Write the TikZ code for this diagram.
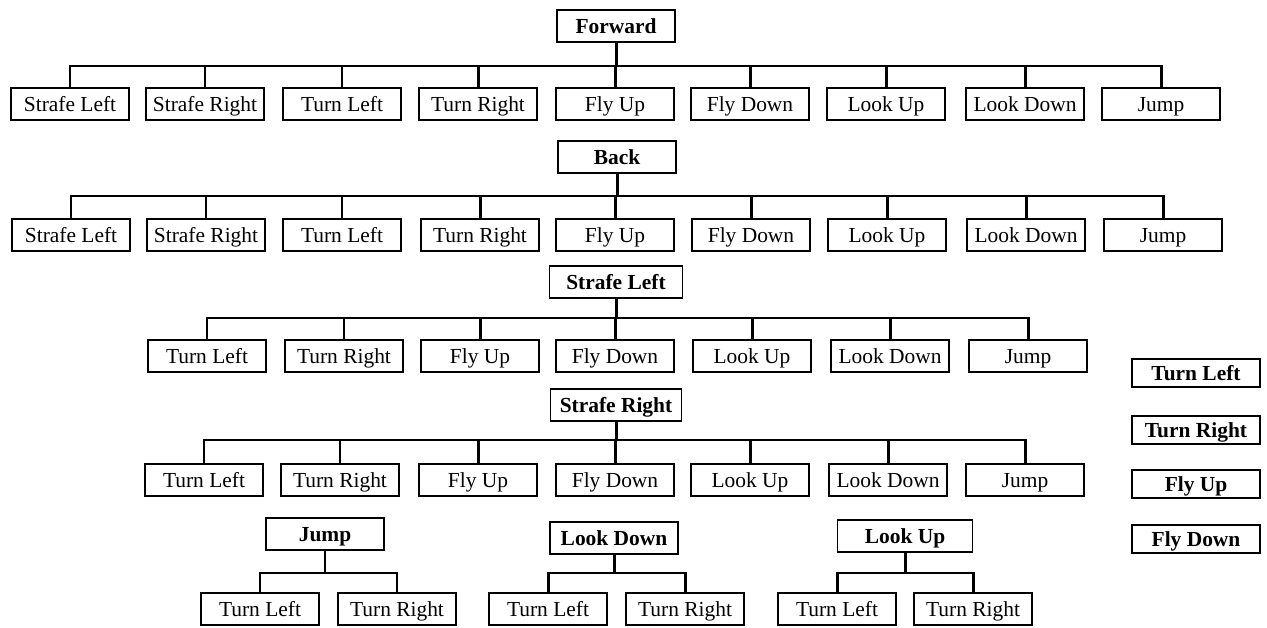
\documentclass[tikz,border=0pt]{standalone}
\usepackage{fontspec}
\setmainfont{Liberation Serif}
\usetikzlibrary{positioning}

\tikzset{
  box/.style={draw=black, line width=0.75pt, minimum width=2.36cm, minimum height=0.64cm,
              inner sep=1pt, text height=1.95ex, text depth=0.05ex,
              font=\fontsize{12.2}{14}\selectfont},
  head/.style={box, font=\fontsize{12.2}{14}\selectfont\bfseries},
  side/.style={head, minimum width=2.56cm, minimum height=0.56cm},
  link/.style={line width=1.7pt}
}

\begin{document}
\begin{tikzpicture}[x=0.02cm, y=-0.02cm]
  \useasboundingbox (0,0) rectangle (1267,628);

  % Forward
  \node[head] (fw) at (616,26) {Forward};
  \coordinate (fwbus) at (616,66);
  \foreach \x/\t [count=\i] in {70/Strafe Left, 205/Strafe Right, 342/Turn Left, 478/Turn Right,
      615/Fly Up, 750/Fly Down, 886/Look Up, 1025/Look Down, 1161/Jump} {
    \node[box] (fw\i) at (\x,104) {\t};
    \draw[link] (fw.south) |- (fw\i.north |- fwbus) -- (fw\i.north);
  }

  % Back
  \node[head] (bk) at (617,157) {Back};
  \coordinate (bkbus) at (617,196);
  \foreach \x/\t [count=\i] in {71/Strafe Left, 206/Strafe Right, 342/Turn Left, 480/Turn Right,
      615/Fly Up, 751/Fly Down, 887/Look Up, 1026/Look Down, 1163/Jump} {
    \node[box] (bk\i) at (\x,235) {\t};
    \draw[link] (bk.south) |- (bk\i.north |- bkbus) -- (bk\i.north);
  }

  % Strafe Left
  \node[head, minimum width=2.66cm] (sl) at (616,282) {Strafe Left};
  \coordinate (slbus) at (616,318);
  \foreach \x/\t [count=\i] in {207/Turn Left, 344/Turn Right, 480/Fly Up, 615/Fly Down,
      752/Look Up, 890/Look Down, 1028/Jump} {
    \node[box] (sl\i) at (\x,356) {\t};
    \draw[link] (sl.south) |- (sl\i.north |- slbus) -- (sl\i.north);
  }

  % Strafe Right
  \node[head, minimum width=2.62cm] (sr) at (616,405) {Strafe Right};
  \coordinate (srbus) at (616,440);
  \foreach \x/\t [count=\i] in {204/Turn Left, 340/Turn Right, 478/Fly Up, 615/Fly Down,
      750/Look Up, 888/Look Down, 1025/Jump} {
    \node[box] (sr\i) at (\x,480) {\t};
    \draw[link] (sr.south) |- (sr\i.north |- srbus) -- (sr\i.north);
  }

  % small trees
  \node[head] (jp) at (325,534) {Jump};
  \node[head, minimum width=2.56cm] (ld) at (614,538) {Look Down};
  \node[head, minimum width=2.7cm] (lu) at (905,536) {Look Up};
  \foreach \p/\a/\b in {jp/260/397, ld/548/685, lu/837/973} {
    \coordinate (\p bus) at (\p.south |- 0,573);
    \node[box] (\p1) at (\a,609) {Turn Left};
    \node[box] (\p2) at (\b,609) {Turn Right};
    \draw[link] (\p.south) |- (\p1.north |- \p bus) -- (\p1.north);
    \draw[link] (\p.south) |- (\p2.north |- \p bus) -- (\p2.north);
  }

  % right column
  \node[side] (tl) at (1196,373) {Turn Left};
  \node[side] (tr) at (1196,430) {Turn Right};
  \node[side] (fu) at (1196,484) {Fly Up};
  \node[side] (fd) at (1196,539) {Fly Down};
\end{tikzpicture}
\end{document}
